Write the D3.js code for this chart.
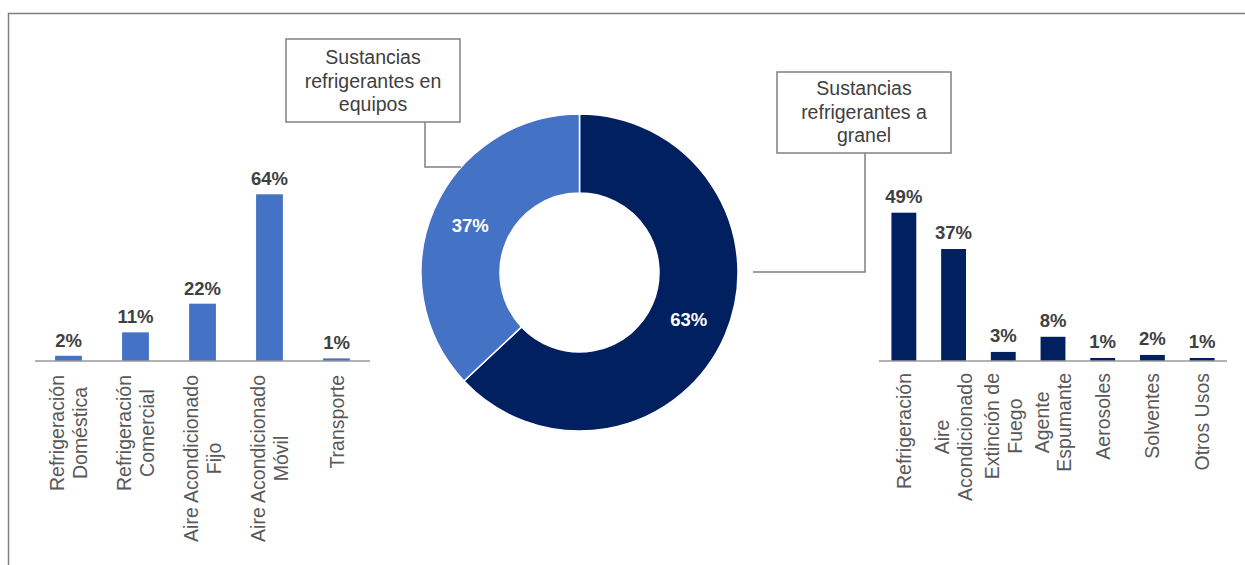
<!DOCTYPE html>
<html>
<head>
<meta charset="utf-8">
<script src="https://cdn.jsdelivr.net/npm/d3@7/dist/d3.min.js"></script>
<style>
  html, body { margin: 0; padding: 0; background: #fff; }
  svg { display: block; font-family: Arial, "Liberation Sans", sans-serif; }
</style>
</head>
<body>
<svg id="chart" width="1245" height="565"></svg>
<script>
// Uso de sustancias refrigerantes: en equipos vs. a granel
const donutLabels = ["Sustancias refrigerantes a granel", "Sustancias refrigerantes en equipos"];
const donutValues = [63, 37];

const equiposCategories = [
  ["Refrigeración", "Doméstica"],
  ["Refrigeración", "Comercial"],
  ["Aire Acondicionado", "Fijo"],
  ["Aire Acondicionado", "Móvil"],
  ["Transporte"]
];
const equiposValues = [2, 11, 22, 64, 1];

const granelCategories = [
  ["Refrigeración"],
  ["Aire", "Acondicionado"],
  ["Extinción de", "Fuego"],
  ["Agente", "Espumante"],
  ["Aerosoles"],
  ["Solventes"],
  ["Otros Usos"]
];
const granelValues = [49, 37, 3, 8, 1, 2, 1];

const calloutEquipos = ["Sustancias", "refrigerantes en", "equipos"];
const calloutGranel = ["Sustancias", "refrigerantes a", "granel"];

const DARK = "#002060";
const LIGHT = "#4472C4";
const VALUE_COLOR = "#404040";
const CAT_COLOR = "#595959";
const LINE_GRAY = "#808080";

const svg = d3.select("#chart");

// outer frame (open on the right and bottom edges of the page)
svg.append("rect")
  .attr("x", 8.5).attr("y", 13.5)
  .attr("width", 1260).attr("height", 600)
  .attr("fill", "none").attr("stroke", LINE_GRAY).attr("stroke-width", 1.5);

function pct(v) { return v + "%"; }

function barChart(cfg) {
  const g = svg.append("g");
  const x = d3.scaleBand()
    .domain(d3.range(cfg.values.length))
    .range([cfg.x0, cfg.x1])
    .paddingInner(cfg.padding).paddingOuter(cfg.padding / 2);
  const y = d3.scaleLinear()
    .domain([0, d3.max(cfg.values)])
    .range([cfg.baseY, cfg.topY]);

  g.selectAll("rect.bar").data(cfg.values).join("rect")
    .attr("class", "bar")
    .attr("x", (d, i) => x(i))
    .attr("y", d => y(d))
    .attr("width", x.bandwidth())
    .attr("height", d => cfg.baseY - y(d))
    .attr("fill", cfg.color);

  // baseline
  g.append("line")
    .attr("x1", cfg.x0).attr("x2", cfg.x1)
    .attr("y1", cfg.baseY).attr("y2", cfg.baseY)
    .attr("stroke", "#999").attr("stroke-width", 1.6);

  // value labels
  g.selectAll("text.val").data(cfg.values).join("text")
    .attr("class", "val")
    .attr("x", (d, i) => x(i) + x.bandwidth() / 2)
    .attr("y", d => y(d) - cfg.labelGap)
    .attr("text-anchor", "middle")
    .attr("font-size", 18.5).attr("font-weight", "bold")
    .attr("fill", VALUE_COLOR)
    .text(pct);

  // rotated category labels, lines centred on each other
  cfg.categories.forEach((lines, i) => {
    const cx = x(i) + x.bandwidth() / 2;
    const lg = g.append("g")
      .attr("transform", `translate(${cx},${cfg.baseY}) rotate(-90)`);
    const n = lines.length;
    const texts = lines.map((t, k) => lg.append("text")
      .attr("y", (k - (n - 1) / 2) * 22.5)
      .attr("dominant-baseline", "central")
      .attr("text-anchor", "middle")
      .attr("font-size", 19.5)
      .attr("fill", CAT_COLOR)
      .text(t));
    const maxLen = d3.max(texts, t => t.node().getComputedTextLength());
    texts.forEach(t => t.attr("x", -(cfg.catGap + maxLen / 2)));
  });
}

barChart({
  values: equiposValues, categories: equiposCategories, color: LIGHT,
  x0: 35, x1: 370, baseY: 361, topY: 194.3, padding: 0.6, labelGap: 9, catGap: 14
});

barChart({
  values: granelValues, categories: granelCategories, color: DARK,
  x0: 879, x1: 1227, baseY: 361, topY: 212.7, padding: 0.5, labelGap: 10, catGap: 12
});

// donut
const cx = 579.5, cy = 272.5, rOuter = 158.5, rInner = 79.5;
const pie = d3.pie().sort(null).value(d => d);
const arc = d3.arc().innerRadius(rInner).outerRadius(rOuter);
const dg = svg.append("g").attr("transform", `translate(${cx},${cy})`);
const arcs = pie(donutValues);
dg.selectAll("path").data(arcs).join("path")
  .attr("d", arc)
  .attr("fill", (d, i) => i === 0 ? DARK : LIGHT)
  .attr("stroke", "#fff").attr("stroke-width", 1.5);
dg.selectAll("text").data(arcs).join("text")
  .attr("transform", d => `translate(${arc.centroid(d)})`)
  .attr("text-anchor", "middle")
  .attr("dominant-baseline", "central")
  .attr("font-size", 18.5).attr("font-weight", "bold")
  .attr("fill", "#fff")
  .text(d => pct(d.data));

// callout boxes with elbow connectors
function callout(lines, box, conn) {
  const g = svg.append("g");
  g.append("path")
    .attr("d", d3.line()(conn))
    .attr("fill", "none").attr("stroke", LINE_GRAY).attr("stroke-width", 1.5);
  g.append("rect")
    .attr("x", box.x).attr("y", box.y).attr("width", box.w).attr("height", box.h)
    .attr("fill", "#fff").attr("stroke", LINE_GRAY).attr("stroke-width", 1.5);
  g.selectAll("text").data(lines).join("text")
    .attr("x", box.x + box.w / 2)
    .attr("y", (d, i) => box.firstBaseline + i * 23.5)
    .attr("text-anchor", "middle")
    .attr("font-size", 19.5)
    .attr("fill", VALUE_COLOR)
    .text(d => d);
}

// connector endpoint on the donut's outer edge
const elbowY = 167;
const edgeX = cx - Math.sqrt(rOuter * rOuter - (cy - elbowY) * (cy - elbowY));

callout(calloutEquipos,
  { x: 286, y: 39, w: 174, h: 83, firstBaseline: 64 },
  [[425, 122], [425, elbowY], [edgeX, elbowY]]);

callout(calloutGranel,
  { x: 777, y: 72, w: 174, h: 81, firstBaseline: 95 },
  [[865, 153], [865, 272], [753, 272]]);
</script>
</body>
</html>
